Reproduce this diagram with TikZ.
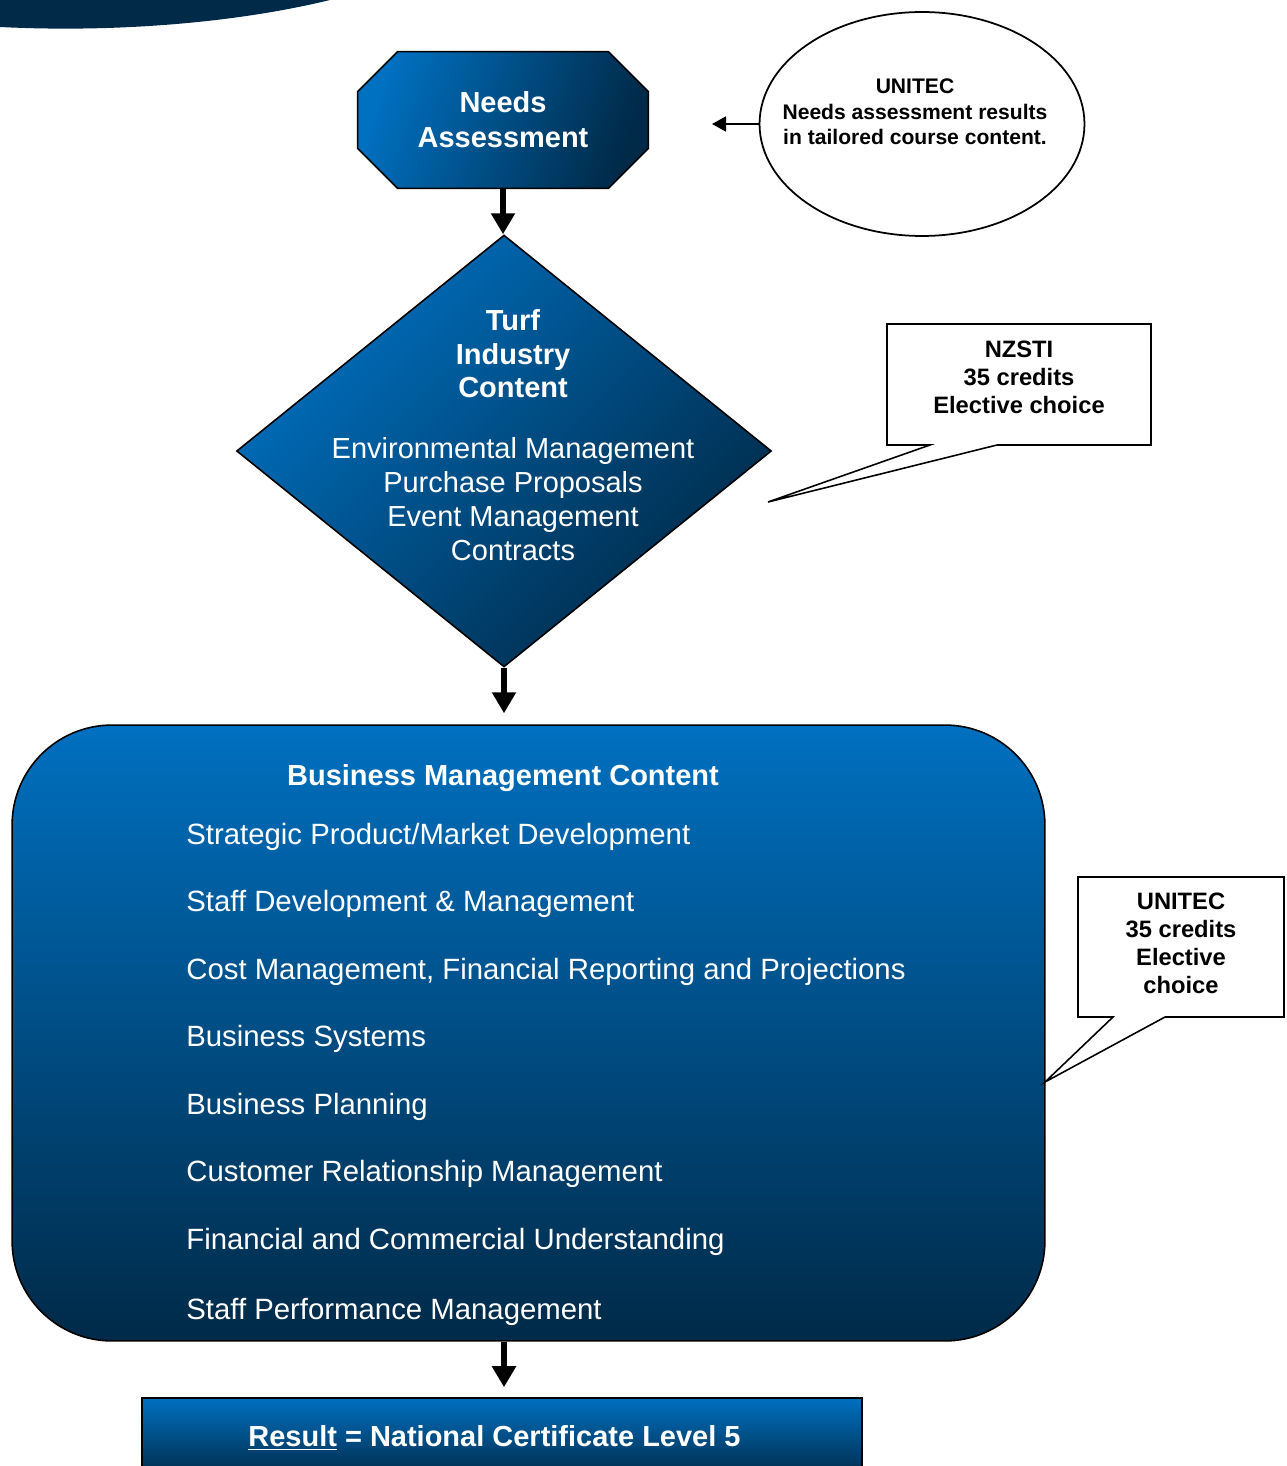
\documentclass[tikz,border=0pt]{standalone}
\usepackage{fontspec}
\setmainfont{Liberation Sans}
\usetikzlibrary{shapes.geometric,arrows.meta,calc,backgrounds}
\definecolor{lightnavy}{RGB}{0,112,192}
\definecolor{darknavy}{RGB}{0,42,72}

\begin{document}
\begin{tikzpicture}[x=0.02cm,y=-0.02cm]
  \tikzstyle{bluebox}=[draw=black,line width=0.9pt,text=white,align=center,font=\bfseries\fontsize{16.5}{19.8}\selectfont,top color=lightnavy,bottom color=darknavy]
  \tikzstyle{bigarrow}=[line width=3.4pt,-{Triangle[width=0.46cm,length=0.42cm]}]
  \tikzstyle{thinarrow}=[line width=1pt,-{Triangle[width=0.3cm,length=0.28cm]}]
  \tikzstyle{callout}=[draw=black,line width=0.9pt]
  \tikzstyle{topic}=[anchor=west,inner xsep=0pt,text=white,font=\fontsize{16.7}{19.8}\selectfont,text height=0.75em,text depth=0.25em]
  \useasboundingbox (0,0) rectangle (1286,1466);
  \clip (0,0) rectangle (1286,1466);

  % swoosh in the corner
  \fill[darknavy] (0,0) -- (330,0) .. controls (240,22) and (120,33) .. (0,27) -- cycle;

  \node[text=white,align=center,font=\bfseries\fontsize{16.5}{19.8}\selectfont,minimum width=5.8cm,minimum height=2.72cm] (na) at (503,120) {Needs\\Assessment};
  \begin{scope}[on background layer]
    \shade[draw=black,line width=0.9pt,top color=lightnavy,bottom color=darknavy,shading angle=70]
      ($(na.north west)+(40,0)$) -- ($(na.north east)+(-40,0)$) -- ($(na.north east)+(0,40)$) -- ($(na.south east)+(0,-40)$)
      -- ($(na.south east)+(-40,0)$) -- ($(na.south west)+(40,0)$) -- ($(na.south west)+(0,-40)$) -- ($(na.north west)+(0,40)$) -- cycle;
  \end{scope}

  \node[ellipse,draw=black,line width=1pt,minimum width=6.5cm,minimum height=4.48cm] (ua) at (922,124) {};
  \node[font=\bfseries\fontsize{12}{14.5}\selectfont,align=center] (uatext) at (915,112) {UNITEC\\Needs assessment results\\in tailored course content.};
  \coordinate (uatip) at (712,124);
  \draw[thinarrow] (ua.west) -- (uatip);

  \node[bluebox,diamond,minimum width=10.7cm,minimum height=8.64cm,inner sep=0,shading angle=45] (tic) at (504,451) {};
  \node[text=white,align=center,font=\fontsize{16.5}{19.3}\selectfont] (tictext) at (513,435) {\textbf{Turf}\\\textbf{Industry}\\\textbf{Content}\\[0.54cm]Environmental Management\\Purchase Proposals\\Event Management\\Contracts};

  % NZSTI callout
  \node[font=\bfseries\fontsize{13.5}{15.9}\selectfont,align=center] (nz) at (1019,377) {NZSTI\\35 credits\\Elective choice};
  \coordinate (nztip) at (768,502);
  \draw[callout] ($(nz)+(-132,-53)$) -- ++(264,0) -- ++(0,121) -- ++(-154,0) -- (nztip) -- ($(nz)+(-89,68)$) -- ($(nz)+(-132,68)$) -- cycle;

  \node[bluebox,rounded corners=2cm,minimum width=20.66cm,minimum height=12.32cm] (bm) at (528.5,1033) {};
  \node[text=white,font=\bfseries\fontsize{16.5}{19.8}\selectfont] (bmtitle) at (503,778) {Business Management Content};
  \node[topic] (bm1) at (186,840) {Strategic Product/Market Development};
  \node[topic] (bm2) at (186,907) {Staff Development \& Management};
  \node[topic] (bm3) at (186,975) {Cost Management, Financial Reporting and Projections};
  \node[topic] (bm4) at (186,1042) {Business Systems};
  \node[topic] (bm5) at (186,1110) {Business Planning};
  \node[topic] (bm6) at (186,1177) {Customer Relationship Management};
  \node[topic] (bm7) at (186,1245) {Financial and Commercial Understanding};
  \node[topic] (bm8) at (186,1315) {Staff Performance Management};

  % UNITEC callout
  \node[font=\bfseries\fontsize{13.5}{15.9}\selectfont,align=center] (ue) at (1181,943.5) {UNITEC\\35 credits\\Elective\\choice};
  \coordinate (uetip) at (1045,1082);
  \draw[callout] ($(ue)+(-103,-66.5)$) -- ++(206,0) -- ++(0,140) -- ++(-119,0) -- (uetip) -- ($(ue)+(-68,73.5)$) -- ($(ue)+(-103,73.5)$) -- cycle;

  \node[bluebox,minimum width=14.4cm,minimum height=1.6cm] (res) at (502,1438) {\underline{Result} = National Certificate Level 5\hspace*{0.3cm}};

  \draw[bigarrow] (na.south) -- (na.south |- tic.north);
  \draw[bigarrow,shorten >=0.22cm] (tic.south) -- (tic.south |- bm.north);
  \draw[bigarrow,shorten >=0.2cm] (tic.south |- bm.south) -- (tic.south |- res.north);
\end{tikzpicture}
\end{document}
